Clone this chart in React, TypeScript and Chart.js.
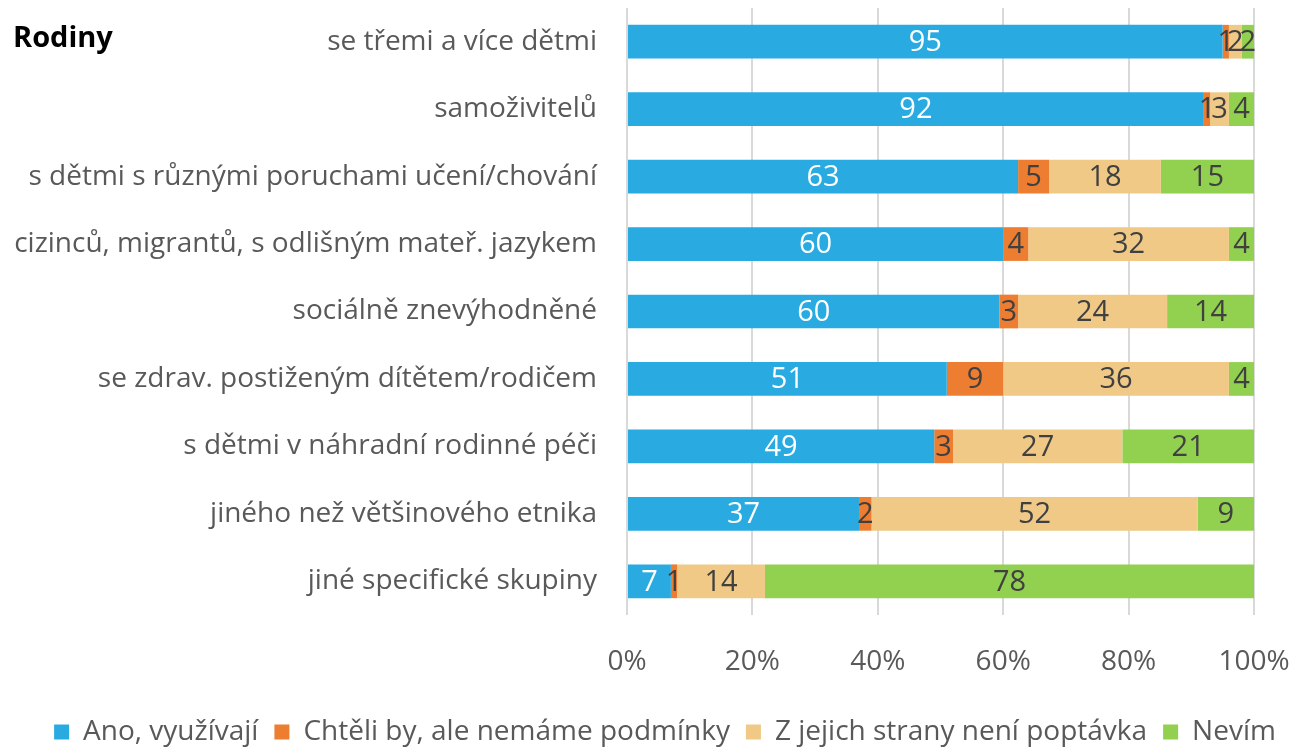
import React, { useEffect, useRef } from "react";
import { Chart, registerables } from "chart.js";

Chart.register(...registerables);

const categories = [
  "se třemi a více dětmi",
  "samoživitelů",
  "s dětmi s různými poruchami učení/chování",
  "cizinců, migrantů, s odlišným mateř. jazykem",
  "sociálně znevýhodněné",
  "se zdrav. postiženým dítětem/rodičem",
  "s dětmi v náhradní rodinné péči",
  "jiného než většinového etnika",
  "jiné specifické skupiny",
];

const seriesNames = [
  "Ano, využívají",
  "Chtěli by, ale nemáme podmínky",
  "Z jejich strany není poptávka",
  "Nevím",
];

const anoValues = [95, 92, 63, 60, 60, 51, 49, 37, 7];
const chteliValues = [1, 1, 5, 4, 3, 9, 3, 2, 1];
const poptavkaValues = [2, 3, 18, 32, 24, 36, 27, 52, 14];
const nevimValues = [2, 4, 15, 4, 14, 4, 21, 9, 78];

const xTicks = [0, 20, 40, 60, 80, 100];

const colors = ["#29ABE2", "#ED7D31", "#F0C987", "#92D050"];
const labelColors = ["#FFFFFF", "#404040", "#404040", "#404040"];

const FONT = "'Open Sans', 'Noto Sans', sans-serif";

const dataLabelPlugin = {
  id: "dataLabels",
  afterDatasetsDraw(chart: any) {
    const ctx = chart.ctx;
    ctx.save();
    ctx.font = `29px ${FONT}`;
    ctx.textAlign = "center";
    ctx.textBaseline = "middle";
    chart.data.datasets.forEach((ds: any, di: number) => {
      const meta = chart.getDatasetMeta(di);
      meta.data.forEach((bar: any, i: number) => {
        const raw = ds.rawValues[i];
        const { x, base, y } = bar.getProps(["x", "base", "y"], true);
        ctx.fillStyle = labelColors[di];
        ctx.fillText(String(raw), (x + base) / 2, y + 1);
      });
    });
    ctx.restore();
  },
};

const legendShiftPlugin = {
  id: "legendShift",
  afterLayout(chart: any) {
    const lg = chart.legend;
    if (lg) {
      lg.left += 38;
      lg.right += 38;
    }
  },
};

export default function App() {
  const ref = useRef<HTMLCanvasElement>(null);

  useEffect(() => {
    const all = [anoValues, chteliValues, poptavkaValues, nevimValues];
    const sums = categories.map((_, i) => all.reduce((s, arr) => s + arr[i], 0));
    const datasets = all.map((arr, di) => ({
      label: seriesNames[di],
      data: arr.map((v, i) => (v / sums[i]) * 100),
      rawValues: arr,
      backgroundColor: colors[di],
      borderWidth: 0,
      barPercentage: 0.5,
      categoryPercentage: 1,
    }));

    const chart = new Chart(ref.current!, {
      type: "bar",
      data: { labels: categories, datasets: datasets as any },
      options: {
        indexAxis: "y",
        animation: false,
        responsive: false,
        maintainAspectRatio: false,
        layout: { padding: { top: 8, right: 38, left: 0, bottom: -7 } },
        scales: {
          x: {
            stacked: true,
            min: 0,
            max: 100,
            afterBuildTicks: (scale: any) => {
              scale.ticks = xTicks.map((v) => ({ value: v }));
            },
            afterFit: (scale: any) => {
              scale.paddingLeft = 0;
              scale.paddingRight = 0;
              scale.height = 87;
            },
            ticks: {
              callback: (v: any) => v + "%",
              color: "#595959",
              font: { family: FONT, size: 28 },
              padding: 30,
            },
            grid: { color: "#D9D9D9", lineWidth: 2, drawTicks: false },
            border: { display: false },
          },
          y: {
            stacked: true,
            afterFit: (scale: any) => {
              scale.width = 627;
              scale.paddingTop = 0;
              scale.paddingBottom = 0;
            },
            ticks: {
              color: "#595959",
              font: { family: FONT, size: 28 },
              padding: 30,
            },
            grid: { display: false, drawTicks: false },
            border: { display: false },
          },
        },
        plugins: {
          legend: {
            position: "bottom",
            labels: {
              color: "#595959",
              font: { family: FONT, size: 28 },
              boxWidth: 15,
              boxHeight: 15,
              padding: 16,
            },
          },
          tooltip: { enabled: false },
        },
      },
      plugins: [dataLabelPlugin, legendShiftPlugin],
    });
    return () => chart.destroy();
  }, []);

  return (
    <div style={{ position: "fixed", left: 0, top: 0, width: 1292, height: 749, background: "#fff" }}>
      <canvas ref={ref} width={1292} height={749} style={{ display: "block" }} />
      <div
        style={{
          position: "absolute",
          left: 13,
          top: 16,
          fontFamily: FONT,
          fontWeight: 700,
          fontSize: 29,
          color: "#000",
        }}
      >
        Rodiny
      </div>
    </div>
  );
}
